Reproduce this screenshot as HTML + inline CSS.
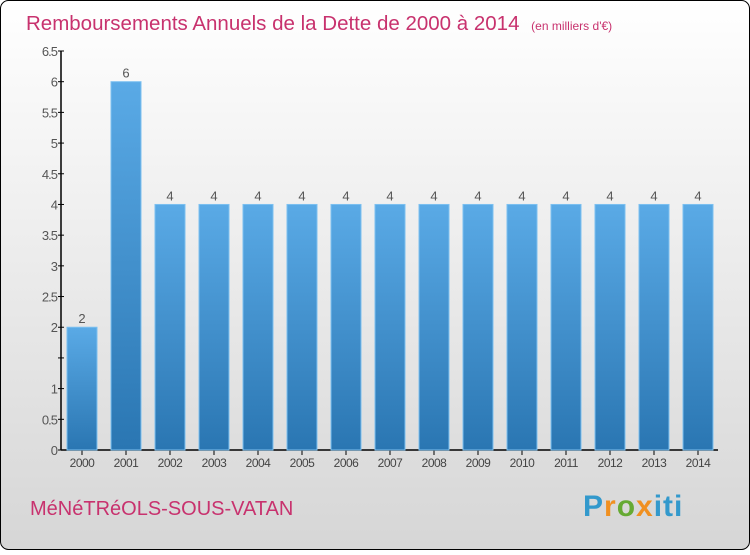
<!DOCTYPE html>
<html><head><meta charset="utf-8"><style>
body{margin:0;width:750px;height:550px;overflow:hidden;font-family:"Liberation Sans",sans-serif}
</style></head><body>
<svg width="750" height="550">
<defs>
<linearGradient id="bg" x1="0" y1="0" x2="0" y2="1"><stop offset="0" stop-color="#ffffff"/><stop offset="1" stop-color="#d6d6d6"/></linearGradient>
<linearGradient id="bar" x1="0" y1="0" x2="0" y2="1"><stop offset="0" stop-color="#5aaae6"/><stop offset="1" stop-color="#2a76b2"/></linearGradient>
</defs>
<rect x="0.5" y="0.5" width="749" height="549" rx="8" fill="url(#bg)" stroke="#000"/>
<text x="26" y="30" font-size="20.5" fill="#c8326e">Remboursements Annuels de la Dette de 2000 à 2014 <tspan font-size="12" dx="6">(en milliers d'€)</tspan></text>
<g id="axes"></g>
<g id="bars"></g>
<text x="30" y="515" font-size="20" fill="#c8326e">MéNéTRéOLS-SOUS-VATAN</text>
<text x="583" y="516" font-size="30" font-weight="bold" fill="#3399cc" letter-spacing="1">P<tspan fill="#f09020">r</tspan><tspan fill="#66aa33">o</tspan><tspan fill="#f09020">x</tspan><tspan fill="#3399cc">iti</tspan></text>
</svg>
<script>
const categories=["2000","2001","2002","2003","2004","2005","2006","2007","2008","2009","2010","2011","2012","2013","2014"];
const values=[2,6,4,4,4,4,4,4,4,4,4,4,4,4,4];
const ticks=[0,0.5,1,1.5,2,2.5,3,3.5,4,4.5,5,5.5,6,6.5];
const hiddenTicks=[1.5];
const NS="http://www.w3.org/2000/svg";
const y=v=>450-v*(399/6.5);
const x=i=>82+i*44;
function mk(t,a,p){const e=document.createElementNS(NS,t);for(const k in a)e.setAttribute(k,a[k]);p.appendChild(e);return e;}
const ax=document.getElementById('axes'),bg=document.getElementById('bars');
const yl=mk('line',{x1:61,y1:y(6.5),x2:61,y2:450,stroke:'#000','stroke-width':1.5},ax);


const xl=mk('line',{x1:61,y1:450,x2:718,y2:450,stroke:'#000','stroke-width':1.5},ax);


ticks.forEach(t=>{
 mk('line',{x1:58,x2:64,y1:y(t),y2:y(t),stroke:'#000'},ax);
 if(hiddenTicks.includes(t))return;
 const tx=mk('text',{x:57,y:y(t)+5,'text-anchor':'end','font-size':13,fill:'#555','letter-spacing':'-1'},ax);
 tx.textContent=String(t);
 
 
});
categories.forEach((c,i)=>{
 const r=mk('rect',{x:x(i)-15,y:y(values[i]),width:30,height:450-y(values[i]),fill:'url(#bar)',stroke:'#7cc0f0','stroke-width':1},bg);
 
 
 const v=mk('text',{x:x(i),y:y(values[i])-4,'text-anchor':'middle','font-size':13,fill:'#555'},bg);
 v.textContent=values[i];
 
 
 mk('line',{x1:x(i),x2:x(i),y1:450,y2:455,stroke:'#000'},ax);
 const l=mk('text',{x:x(i),y:467,'text-anchor':'middle','font-size':12,fill:'#444','letter-spacing':'-0.5'},ax);
 l.textContent=c;
 
 
});
</script>
</body></html>
